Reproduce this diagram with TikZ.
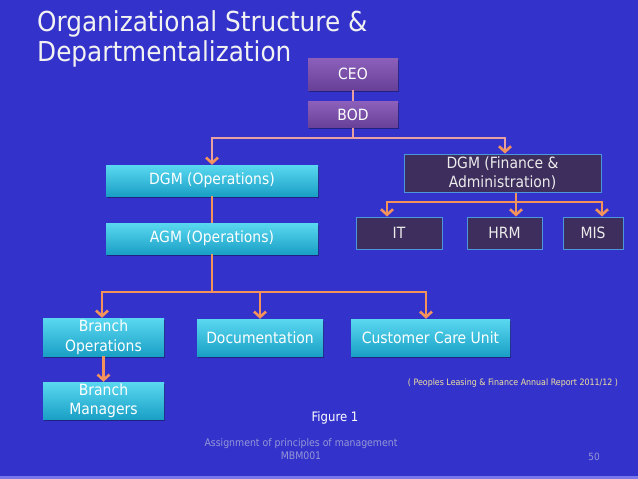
\documentclass[tikz,border=0pt]{standalone}
\usepackage{fontspec}
\setmainfont{DejaVu Sans Condensed}
\usetikzlibrary{arrows.meta,shadows}
\definecolor{bg}{RGB}{51,51,204}
\definecolor{bgline}{RGB}{120,120,235}
\definecolor{cyantop}{RGB}{90,216,240}
\definecolor{cyanbot}{RGB}{26,160,198}
\definecolor{purtop}{RGB}{140,96,186}
\definecolor{purbot}{RGB}{104,64,152}
\definecolor{darkfill}{RGB}{62,46,94}
\definecolor{darkedge}{RGB}{78,150,220}
\definecolor{arrorange}{RGB}{244,146,92}
\definecolor{pinkline}{RGB}{232,160,160}
\definecolor{srcyellow}{RGB}{240,225,160}
\definecolor{foot}{RGB}{150,150,215}
\tikzset{
  box/.style={inner sep=1pt, align=center, text=white, font=\fontsize{15.5}{19.5}\selectfont,
    drop shadow={shadow xshift=1pt, shadow yshift=-1.5pt, fill=black, opacity=0.35}},
  cyanbox/.style={box, top color=cyantop, bottom color=cyanbot},
  purbox/.style={box, top color=purtop, bottom color=purbot},
  darkbox/.style={inner sep=1pt, align=center, text=white!92!black, font=\fontsize{15.5}{18.5}\selectfont,
    fill=darkfill, draw=darkedge, line width=1pt},
  conn/.style={draw=arrorange, line width=2.6pt},
  arr/.style={conn, -{Straight Barb[length=5.5pt,width=12pt]}},
  pinkconn/.style={draw=pinkline, line width=2pt, -{Straight Barb[length=5.5pt,width=12pt,color=arrorange,line width=2.6pt]}},
}
\begin{document}
\begin{tikzpicture}[x=1pt,y=-1pt]
\fill[bg] (0,0) rectangle (638,479);
\fill[bgline] (0,476) rectangle (638,479);
\useasboundingbox (0,0) rectangle (638,479);

\node[anchor=west, text=white!95!black, font=\fontsize{27.5}{29.5}\selectfont, align=left, inner sep=0pt]
  (title) at (37,39) {Organizational Structure \&\\Departmentalization};

\node[purbox, minimum width=90pt, minimum height=32pt] (ceo) at (353,74) {CEO};
\node[purbox, minimum width=90pt, minimum height=26pt] (bod) at (353,114.5) {BOD};

\node[cyanbox, minimum width=212pt, minimum height=31pt] (dgmops) at (212,180.5) {DGM (Operations)};
\node[cyanbox, minimum width=212pt, minimum height=31pt] (agm) at (212,238.5) {AGM (Operations)};

\node[darkbox, minimum width=197pt, minimum height=38pt] (dgmfin) at (502.5,173) {DGM (Finance \&\\Administration)};
\node[darkbox, minimum width=86pt, minimum height=32pt] (it) at (399,233) {IT};
\node[darkbox, minimum width=75pt, minimum height=32pt] (hrm) at (504.5,233) {HRM};
\node[darkbox, minimum width=60pt, minimum height=32pt] (mis) at (593,233) {MIS};

\node[cyanbox, minimum width=121pt, minimum height=38pt] (bops) at (103.5,337) {Branch\\Operations};
\node[cyanbox, minimum width=121pt, minimum height=37pt] (bmgr) at (103.5,400.5) {Branch\\Managers};
\node[cyanbox, minimum width=126pt, minimum height=37pt] (doc) at (260,337.5) {Documentation};
\node[cyanbox, minimum width=159pt, minimum height=37pt] (ccu) at (430.5,337.5) {Customer Care Unit};

% connectors
\draw[pinkline, line width=1.5pt] (ceo) -- (bod);
\coordinate (busTop) at (353,138);
\draw[pinkconn] (bod.south) -- (busTop) -| (dgmops.north);
\draw[pinkconn] (busTop) -| ([xshift=2.5pt]dgmfin.north);

\draw[conn] (dgmops) -- (agm);
\coordinate (busOps) at (212,292);
\draw[conn] (agm.south) -- (busOps);
\draw[arr] (busOps) -| ([xshift=-1.5pt]bops.north);
\draw[arr] (busOps) -| (doc.north);
\draw[arr] (busOps) -| ([xshift=-4.5pt]ccu.north);
\draw[arr] (bops) -- (bmgr);

\coordinate (busFin) at (516,202);
\draw[conn] (busFin |- dgmfin.south) -- (busFin);
\draw[arr] (busFin) -| ([xshift=-12pt]it.north);
\draw[arr] (busFin) -- (busFin |- hrm.north);
\draw[arr] (busFin) -| ([xshift=9pt]mis.north);

% texts
\node[text=srcyellow, font=\fontsize{8.8}{10}\selectfont, inner sep=0pt] (src) at (513,383)
  {( Peoples Leasing \& Finance Annual Report 2011/12 )};
\node[text=white, font=\fontsize{13}{15}\selectfont, inner sep=0pt] (fig) at (335,418) {Figure 1};
\node[text=foot, font=\fontsize{10.4}{12.5}\selectfont, align=center, inner sep=0pt] (assign) at (301,449)
  {Assignment of principles of management\\MBM001};
\node[text=foot, font=\fontsize{10}{12}\selectfont, inner sep=0pt] (page) at (594,457) {50};
\end{tikzpicture}
\end{document}
